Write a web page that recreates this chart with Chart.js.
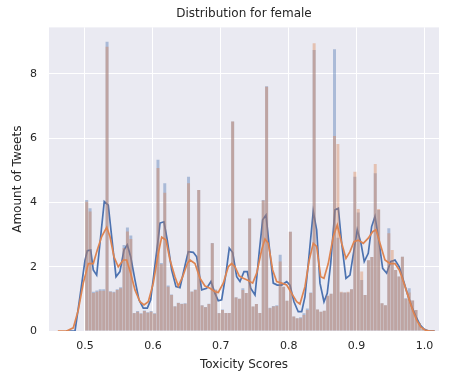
<!DOCTYPE html>
<html>
<head>
<meta charset="utf-8">
<script src="https://cdn.jsdelivr.net/npm/chart.js@4/dist/chart.umd.min.js"></script>
<style>
  html, body { margin: 0; padding: 0; background: #ffffff; }
  #wrap { width: 449px; height: 378px; }
</style>
</head>
<body>
<div id="wrap"><canvas id="chart" width="449" height="378"></canvas></div>
<script>
// Histogram bins: 100 bins of width 0.005 starting at 0.5
const binStart = 0.5;
const binWidth = 0.005;

// Bar heights (density) for the first sample (blue)
const histBlue = [
  4.08, 3.82, 1.22, 1.26, 1.30, 1.30, 9.00, 1.24, 1.22, 1.30,
  1.36, 2.68, 3.22, 2.97, 0.56, 0.62, 0.55, 0.64, 0.58, 0.62,
  0.55, 5.33, 2.12, 4.60, 1.42, 1.14, 0.77, 0.88, 0.85, 0.86,
  4.80, 1.23, 1.29, 4.39, 0.80, 0.75, 0.85, 2.74, 1.29, 0.56,
  0.67, 0.56, 0.56, 6.52, 1.05, 1.00, 1.33, 1.18, 3.50, 0.76,
  0.84, 0.56, 4.08, 7.62, 0.72, 0.78, 0.80, 2.37, 1.38, 0.94,
  3.09, 0.45, 0.40, 0.43, 0.55, 0.70, 1.20, 8.75, 0.67, 0.60,
  0.63, 1.10, 1.16, 8.77, 2.90, 1.20, 1.20, 1.20, 1.30, 4.80,
  3.69, 1.59, 1.12, 2.20, 2.30, 4.91, 3.77, 0.86, 0.80, 3.20,
  2.20, 1.90, 1.70, 2.31, 1.02, 1.33, 0.95, 0.65, 0.25, 0.08
];

// Bar heights (density) for the second sample (orange)
const histOrange = [
  4.02, 3.72, 1.18, 1.22, 1.25, 1.25, 8.85, 1.22, 1.20, 1.28,
  1.33, 2.58, 3.10, 2.86, 0.55, 0.60, 0.54, 0.62, 0.57, 0.60,
  0.54, 5.07, 2.08, 4.30, 1.38, 1.12, 0.76, 0.87, 0.84, 0.85,
  4.60, 1.22, 1.28, 4.39, 0.79, 0.74, 0.84, 2.73, 1.28, 0.55,
  0.65, 0.56, 0.56, 6.52, 1.04, 1.00, 1.28, 1.18, 3.50, 0.76,
  0.84, 0.56, 4.06, 7.60, 0.71, 0.76, 0.78, 2.16, 1.38, 0.94,
  3.09, 0.45, 0.40, 0.40, 0.50, 0.65, 1.18, 8.96, 0.67, 0.60,
  0.63, 1.10, 1.16, 6.07, 5.82, 1.22, 1.20, 1.22, 1.30, 4.96,
  3.80, 1.85, 1.12, 2.20, 2.30, 5.20, 3.80, 0.86, 0.80, 3.04,
  2.52, 1.90, 1.70, 2.31, 1.00, 1.20, 0.95, 0.65, 0.25, 0.06
];

// Kernel density curves: [score, density]
const kdeBlue = [
  [0.472, 0], [0.4853, 0], [0.4926, 1.07], [0.5, 2.2], [0.5034, 2.5], [0.5084, 2.52],
  [0.5122, 1.9], [0.5172, 1.74], [0.5221, 2.74], [0.5284, 4.03], [0.5343, 3.92],
  [0.5393, 2.94], [0.5457, 1.69], [0.5515, 1.85], [0.5574, 2.52], [0.5623, 2.68],
  [0.5673, 2.31], [0.5736, 1.59], [0.5795, 0.97], [0.5859, 0.71], [0.5918, 0.71],
  [0.5968, 0.97], [0.6016, 1.8], [0.6071, 2.73], [0.6105, 3.36], [0.6163, 3.4],
  [0.6212, 2.83], [0.6277, 1.9], [0.634, 1.38], [0.6399, 1.35], [0.6458, 1.9],
  [0.6521, 2.47], [0.6595, 2.45], [0.6645, 2.31], [0.6719, 1.28], [0.6792, 1.33],
  [0.6856, 1.54], [0.6915, 1.17], [0.6963, 0.94], [0.7013, 0.97], [0.7077, 1.8],
  [0.7125, 2.58], [0.7175, 2.44], [0.7234, 1.69], [0.7283, 1.54], [0.7342, 1.85],
  [0.739, 1.85], [0.744, 1.33], [0.7504, 1.12], [0.7567, 2.47], [0.7617, 3.46],
  [0.7666, 3.61], [0.7714, 2.63], [0.7773, 1.49], [0.7832, 1.43], [0.7897, 1.43],
  [0.7971, 1.54], [0.8019, 1.43], [0.8078, 0.91], [0.8141, 0.6], [0.8192, 0.6],
  [0.824, 1.07], [0.8289, 2.1], [0.8362, 3.72], [0.8412, 3.15], [0.8461, 1.49],
  [0.852, 0.91], [0.8568, 1.17], [0.8619, 2.1], [0.8682, 3.77], [0.8731, 3.82],
  [0.8781, 2.73], [0.8844, 1.64], [0.8903, 1.74], [0.8962, 2.52], [0.901, 3.15],
  [0.9065, 2.73], [0.9113, 2.16], [0.9172, 2.42], [0.9222, 3.25], [0.9271, 3.56],
  [0.932, 2.94], [0.9384, 1.95], [0.9443, 1.8], [0.9502, 2.16], [0.9566, 2.21],
  [0.9629, 2.0], [0.9688, 1.59], [0.9747, 1.17], [0.9812, 0.76], [0.9875, 0.45],
  [0.9934, 0.19], [0.9993, 0.06], [1.0056, 0], [1.015, 0]
];

const kdeOrange = [
  [0.46, 0], [0.473, 0], [0.4828, 0.1], [0.4901, 0.65], [0.4975, 1.49], [0.5049, 2.1],
  [0.5122, 2.1], [0.5181, 2.52], [0.5246, 2.94], [0.532, 3.23], [0.5368, 2.94],
  [0.5427, 2.31], [0.549, 2.0], [0.5564, 2.21], [0.5614, 2.21], [0.5673, 1.8],
  [0.5736, 1.28], [0.581, 0.91], [0.5869, 0.81], [0.5932, 0.91], [0.6006, 1.49],
  [0.608, 2.42], [0.613, 2.92], [0.6193, 2.83], [0.6252, 2.21], [0.6325, 1.69],
  [0.6374, 1.4], [0.6439, 1.69], [0.6507, 2.1], [0.6546, 2.21], [0.662, 2.1],
  [0.6694, 1.64], [0.6767, 1.4], [0.6841, 1.33], [0.6915, 1.22], [0.6963, 1.2],
  [0.7037, 1.49], [0.7111, 2.0], [0.716, 2.1], [0.7209, 2.0], [0.7273, 1.71],
  [0.7331, 1.64], [0.7405, 1.57], [0.747, 1.49], [0.7529, 1.8], [0.7602, 2.52],
  [0.7651, 2.86], [0.77, 2.73], [0.7764, 1.9], [0.7823, 1.54], [0.7897, 1.49],
  [0.7971, 1.43], [0.8044, 1.17], [0.8118, 0.91], [0.8166, 0.84], [0.824, 1.38],
  [0.8303, 2.21], [0.8362, 2.73], [0.8412, 2.63], [0.8471, 1.69], [0.852, 1.64],
  [0.8583, 2.1], [0.8657, 2.94], [0.8716, 3.3], [0.8781, 2.73], [0.8844, 2.26],
  [0.8903, 2.47], [0.8962, 2.78], [0.9025, 2.83], [0.9099, 2.73], [0.9172, 2.89],
  [0.9237, 3.09], [0.9286, 3.15], [0.9345, 2.73], [0.9418, 2.21], [0.9492, 2.1],
  [0.9566, 2.1], [0.9629, 1.9], [0.9698, 1.49], [0.9761, 1.07], [0.9826, 0.65],
  [0.9885, 0.34], [0.9944, 0.13], [1.0007, 0.03], [1.0081, 0], [1.015, 0]
];

const xTicks = [0.5, 0.6, 0.7, 0.8, 0.9, 1.0];
const yTicks = [0, 2, 4, 6, 8];

const BLUE = '#4C72B0';
const ORANGE = '#DD8452';
const TEXT = '#262626';
const FONT = 'DejaVu Sans';

const binCenters = histBlue.map((_, i) => +(binStart + binWidth * (i + 0.5)).toFixed(4));
const toBars = vals => vals.map((v, i) => ({ x: binCenters[i], y: v }));
const toPoints = pairs => pairs.map(([x, y]) => ({ x, y }));

const plotBackground = {
  id: 'plotBackground',
  beforeDraw(chart) {
    const { ctx, chartArea: a } = chart;
    ctx.save();
    ctx.fillStyle = '#EAEAF2';
    ctx.fillRect(a.left, a.top, a.right - a.left, a.bottom - a.top);
    ctx.restore();
  }
};

new Chart(document.getElementById('chart'), {
  type: 'bar',
  data: {
    datasets: [
      {
        type: 'bar', data: toBars(histBlue), order: 4, grouped: false,
        backgroundColor: 'rgba(76,114,176,0.4)', borderWidth: 0,
        barPercentage: 0.88, categoryPercentage: 1.0
      },
      {
        type: 'line', data: toPoints(kdeBlue), order: 3,
        borderColor: BLUE, borderWidth: 1.7, pointRadius: 0, tension: 0, fill: false
      },
      {
        type: 'bar', data: toBars(histOrange), order: 2, grouped: false,
        backgroundColor: 'rgba(221,132,82,0.4)', borderWidth: 0,
        barPercentage: 0.88, categoryPercentage: 1.0
      },
      {
        type: 'line', data: toPoints(kdeOrange), order: 1,
        borderColor: ORANGE, borderWidth: 1.7, pointRadius: 0, tension: 0, fill: false
      }
    ]
  },
  options: {
    responsive: false,
    animation: false,
    layout: { padding: { left: 0, right: 10, top: 0, bottom: 0 } },
    plugins: {
      legend: { display: false },
      tooltip: { enabled: false },
      title: {
        display: true,
        text: 'Distribution for female',
        fullSize: false,
        color: TEXT,
        font: { family: FONT, size: 12, weight: 'normal' },
        padding: { top: 7, bottom: 6 }
      }
    },
    scales: {
      x: {
        type: 'linear',
        min: 0.447,
        max: 1.0214,
        offset: false,
        afterBuildTicks: s => { s.ticks = xTicks.map(v => ({ value: v })); },
        afterFit: s => { s.height = 47; },
        border: { display: false },
        grid: { color: '#ffffff', lineWidth: 1, drawTicks: false, offset: false },
        ticks: {
          color: TEXT, padding: 9, maxRotation: 0,
          font: { family: FONT, size: 11 },
          callback: v => v.toFixed(1)
        },
        title: {
          display: true, text: 'Toxicity Scores', color: TEXT,
          font: { family: FONT, size: 12 }, padding: { top: 0, bottom: 6 }
        }
      },
      y: {
        min: 0,
        max: 9.45,
        afterBuildTicks: s => { s.ticks = yTicks.map(v => ({ value: v })); },
        afterFit: s => { s.width = 49; },
        border: { display: false },
        grid: { color: '#ffffff', lineWidth: 1, drawTicks: false },
        ticks: {
          color: TEXT, padding: 12,
          font: { family: FONT, size: 11 },
          callback: v => String(v)
        },
        title: {
          display: true, text: 'Amount of Tweets', color: TEXT,
          font: { family: FONT, size: 12 }, padding: { top: 11, bottom: 0 }
        }
      }
    }
  },
  plugins: [plotBackground]
});
</script>
</body>
</html>
